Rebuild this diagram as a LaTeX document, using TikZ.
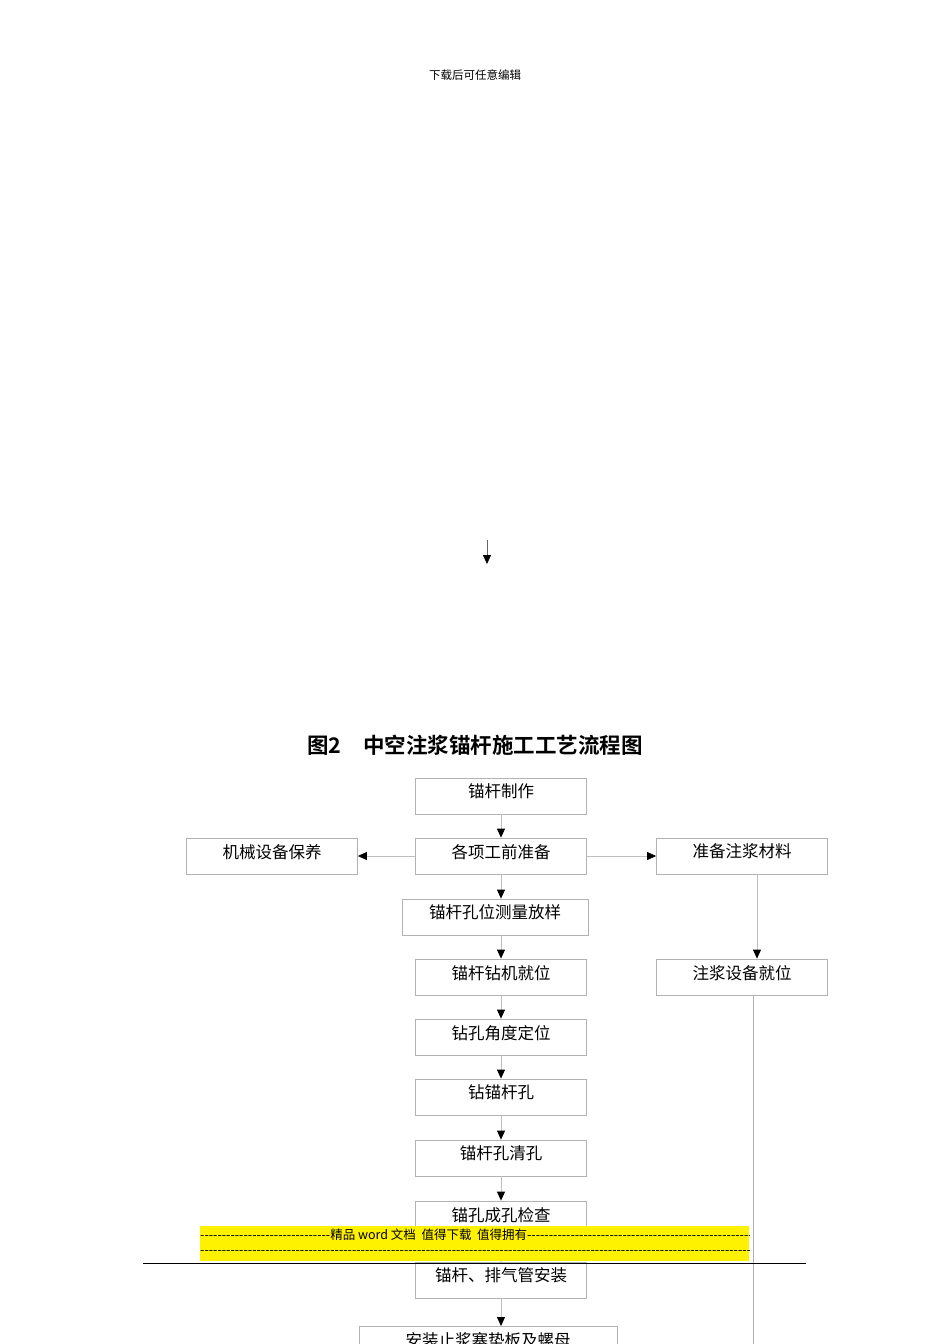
\documentclass[tikz,border=0pt]{standalone}
\usepackage{fontspec}
\newfontfamily\cjk{Noto Sans CJK SC}
\newfontfamily\cjkb{Noto Sans CJK SC Bold}
\usetikzlibrary{arrows.meta}
\begin{document}
\begin{tikzpicture}[x=1pt,y=-1pt,
  box/.style={draw=black!30,line width=0.8pt,minimum height=36pt,inner sep=0pt,text depth=10pt,font=\cjk\fontsize{16.5}{18}\selectfont},
  con/.style={draw=black!25,line width=0.8pt,-{Triangle[black,length=9pt,width=8pt]}}]
\useasboundingbox[fill=white] (0,0) rectangle (950,1344);
\node[font=\cjk\fontsize{11.5}{12}\selectfont] (hdr) at (475,75) {下载后可任意编辑};
\coordinate (s1) at (487,540); \coordinate (s2) at (487,564);
\draw[con,draw=black!60] (s1) -- (s2);
\node[font=\cjkb\fontsize{21.5}{23}\selectfont] (title) at (475,745) {图2\quad 中空注浆锚杆施工工艺流程图};
\node[box,minimum width=171pt] (a1) at (501,796) {锚杆制作};
\node[box,minimum width=171pt] (a2) at (501,856) {各项工前准备};
\node[box,minimum width=186pt] (a3) at (495,917) {锚杆孔位测量放样};
\node[box,minimum width=171pt] (a4) at (501,977) {锚杆钻机就位};
\node[box,minimum width=171pt] (a5) at (501,1037) {钻孔角度定位};
\node[box,minimum width=171pt] (a6) at (501,1097) {钻锚杆孔};
\node[box,minimum width=171pt] (a7) at (501,1158) {锚杆孔清孔};
\node[box,minimum width=171pt] (a8) at (501,1219) {锚孔成孔检查};
\node[box,minimum width=171pt] (a9) at (501,1280) {锚杆、排气管安装};
\node[box,minimum width=258pt,anchor=north] (a10) at (488,1326) {安装止浆塞垫板及螺母};
\node[box,minimum width=171pt] (l1) at (272,856) {机械设备保养};
\node[box,minimum width=171pt] (r1) at (742,856) {准备注浆材料};
\node[box,minimum width=171pt] (r2) at (742,977) {注浆设备就位};
\draw[con] (a1) -- (a2);
\draw[con] (a2.south) -- (a2.south |- a3.north);
\draw[con] (a3.south -| a4.north) -- (a4.north);
\draw[con] (a4) -- (a5);
\draw[con] (a5) -- (a6);
\draw[con] (a6) -- (a7);
\draw[con] (a7) -- (a8);
\draw[con] (a8) -- (a9);
\draw[con] (a9.south) -- (a9.south |- a10.north);
\draw[con] (a2) -- (l1);
\draw[con] (a2) -- (r1);
\draw[con] (r1.south -| 757,0) -- (r2.north -| 757,0);
\coordinate (rb) at (753,1344);
\draw[draw=black!30,line width=0.8pt] (r2.south -| rb) -- (rb);
\fill[yellow] (200,1226) rectangle (749,1261);
\begin{scope}
\clip (200,1226) rectangle (749,1261);
\node[anchor=west,inner sep=0pt,font=\cjk\fontsize{12.5}{13}\selectfont] (w1) at (200,1235) {\foreach\i in {1,...,30}{-{}}精品 word 文档\ \ 值得下载\ \ 值得拥有\foreach\i in {1,...,70}{-{}}};
\node[anchor=west,inner sep=0pt,font=\cjk\fontsize{12.5}{13}\selectfont] (w2) at (200,1253) {\foreach\i in {1,...,140}{-{}}};
\end{scope}
\draw[line width=1pt] (143,1263) -- (806,1263);
\end{tikzpicture}
\end{document}
